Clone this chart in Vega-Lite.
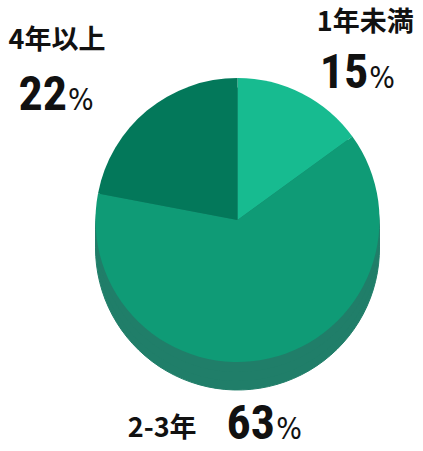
{
  "$schema": "https://vega.github.io/schema/vega-lite/v6.json",
  "description": "3D-style pie of years of experience",
  "width": 371,
  "height": 440,
  "autosize": "none",
  "padding": {"left": 52, "top": 0, "right": 0, "bottom": 11},
  "background": "white",
  "view": {"stroke": null},
  "data": {
    "values": [
      {"cat": "1年未満", "share": 15},
      {"cat": "2-3年", "share": 63},
      {"cat": "4年以上", "share": 22}
    ]
  },
  "encoding": {
    "theta": {"field": "share", "type": "quantitative", "stack": true},
    "order": {"field": "cat", "type": "ordinal", "sort": "ascending"}
  },
  "layer": [
    {"mark": {"type": "arc", "radius": 142, "yOffset": 28, "color": "#207e69", "stroke": "#207e69", "strokeWidth": 1}},
    {"mark": {"type": "arc", "radius": 142, "yOffset": 19, "color": "#207e69", "stroke": "#207e69", "strokeWidth": 1}},
    {"mark": {"type": "arc", "radius": 142, "yOffset": 10, "color": "#207e69", "stroke": "#207e69", "strokeWidth": 1}},
    {
      "mark": {"type": "arc", "radius": 142},
      "encoding": {
        "color": {
          "field": "cat",
          "type": "nominal",
          "scale": {"domain": ["1年未満", "2-3年", "4年以上"], "range": ["#17bb90", "#0f9b76", "#03785a"]},
          "legend": null
        }
      }
    },
    {
      "mark": {
        "type": "text",
        "radius": 200,
        "font": "Noto Sans CJK JP",
        "fontWeight": "bold",
        "fontSize": 27,
        "align": "center",
        "baseline": "alphabetic",
        "color": "#111111",
        "dx": {"expr": "datum.cat == '1年未満' ? 37 : datum.cat == '4年以上' ? -53 : -119"},
        "dy": {"expr": "datum.cat == '1年未満' ? -11 : datum.cat == '4年以上' ? -17 : 22"}
      },
      "encoding": {"text": {"field": "cat"}}
    },
    {
      "mark": {
        "type": "text",
        "radius": 200,
        "font": "Roboto Condensed, Roboto, sans-serif",
        "fontWeight": "bold",
        "fontSize": 48,
        "align": "right",
        "baseline": "alphabetic",
        "color": "#111111",
        "dx": {"expr": "datum.cat == '1年未満' ? 40 : datum.cat == '4年以上' ? -43 : -6"},
        "dy": {"expr": "datum.cat == '1年未満' ? 46 : datum.cat == '4年以上' ? 44 : 24"}
      },
      "encoding": {"text": {"field": "share"}}
    },
    {
      "mark": {
        "type": "text",
        "radius": 200,
        "font": "DejaVu Sans Condensed, sans-serif",
        "fontSize": 30,
        "align": "left",
        "baseline": "alphabetic",
        "color": "#111111",
        "dx": {"expr": "datum.cat == '1年未満' ? 41 : datum.cat == '4年以上' ? -42 : -5"},
        "dy": {"expr": "datum.cat == '1年未満' ? 46 : datum.cat == '4年以上' ? 44 : 24"}
      },
      "encoding": {"text": {"value": "%"}}
    }
  ]
}
